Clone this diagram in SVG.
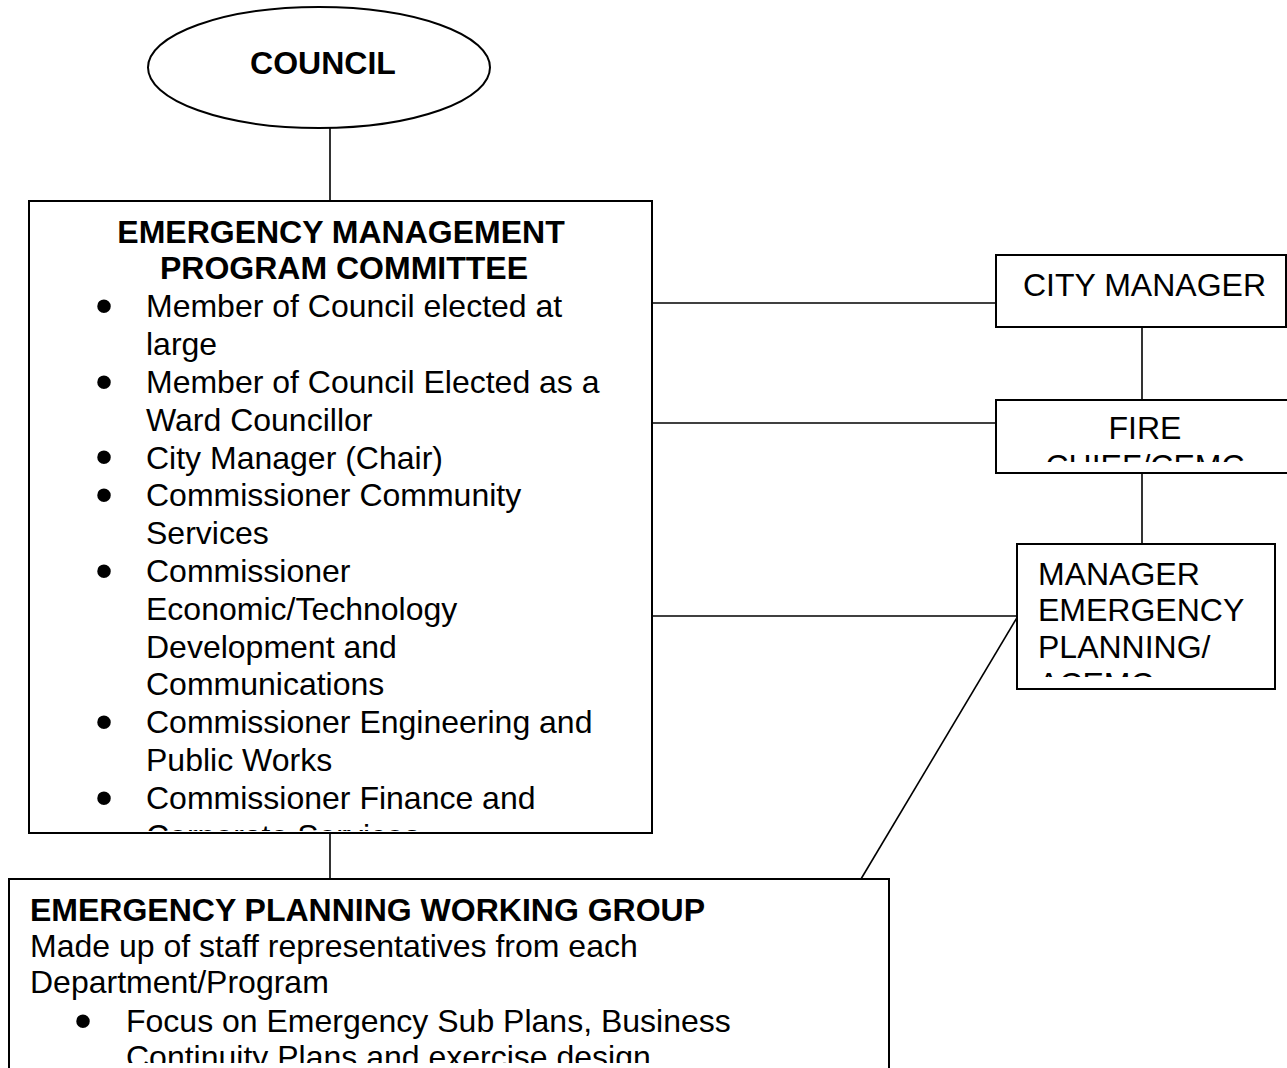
<svg xmlns="http://www.w3.org/2000/svg" width="1287" height="1068" viewBox="0 0 1287 1068">
<style>
.shape{fill:#fff;stroke:#000;stroke-width:2}
.conn line{stroke:#000;stroke-width:1.6}
text{font-family:"Liberation Sans",Arial,sans-serif;font-size:32px;fill:#000}
.b{font-weight:bold}
.bu{font-size:50px;text-anchor:middle}
</style>
<defs>
<clipPath id="cEmpc"><rect x="30" y="202" width="621" height="629"/></clipPath>
<clipPath id="cFire"><rect x="997" y="401" width="290" height="61"/></clipPath>
<clipPath id="cMgr"><rect x="1018" y="545" width="256" height="132"/></clipPath>
<clipPath id="cEpwg"><rect x="10" y="880" width="878" height="183"/></clipPath>
</defs>
<rect width="1287" height="1068" fill="#fff"/>
<g class="conn">
<line x1="330" y1="128" x2="330" y2="201"/>
<line x1="652" y1="303" x2="996" y2="303"/>
<line x1="652" y1="423" x2="996" y2="423"/>
<line x1="652" y1="616" x2="1018" y2="616"/>
<line x1="1142" y1="327" x2="1142" y2="400"/>
<line x1="1142" y1="473" x2="1142" y2="544"/>
<line x1="330" y1="833" x2="330" y2="879"/>
<line x1="1018" y1="616" x2="861" y2="879"/>
</g>
<g id="council">
<ellipse class="shape" cx="319" cy="67.5" rx="171" ry="60.5"/>
<text class="b" x="323" y="73.5" text-anchor="middle">COUNCIL</text>
</g>
<g id="empc">
<rect class="shape" x="29" y="201" width="623" height="632"/>
<g clip-path="url(#cEmpc)">
<text class="b" x="341" y="242.5" text-anchor="middle">EMERGENCY MANAGEMENT</text>
<text class="b" x="344" y="278.5" text-anchor="middle">PROGRAM COMMITTEE</text>
<text class="bu" x="104" y="322.5">•</text><text x="146" y="317">Member of Council elected at</text>
<text x="146" y="355">large</text>
<text class="bu" x="104" y="398.5">•</text><text x="146" y="393">Member of Council Elected as a</text>
<text x="146" y="430.5">Ward Councillor</text>
<text class="bu" x="104" y="474">•</text><text x="146" y="468.5">City Manager (Chair)</text>
<text class="bu" x="104" y="511.5">•</text><text x="146" y="506">Commissioner Community</text>
<text x="146" y="544">Services</text>
<text class="bu" x="104" y="587.5">•</text><text x="146" y="582">Commissioner</text>
<text x="146" y="620">Economic/Technology</text>
<text x="146" y="657.5">Development and</text>
<text x="146" y="695">Communications</text>
<text class="bu" x="104" y="738.5">•</text><text x="146" y="733">Commissioner Engineering and</text>
<text x="146" y="771">Public Works</text>
<text class="bu" x="104" y="814.5">•</text><text x="146" y="809">Commissioner Finance and</text>
<text x="146" y="847">Corporate Services</text>
</g>
</g>
<g id="city-manager">
<rect class="shape" x="996" y="255" width="290" height="72"/>
<text x="1023" y="296">CITY MANAGER</text>
</g>
<g id="fire-chief">
<rect class="shape" x="996" y="400" width="292" height="73"/>
<g clip-path="url(#cFire)">
<text x="1145" y="439" text-anchor="middle">FIRE</text>
<text x="1145" y="477" text-anchor="middle">CHIEF/CEMC</text>
</g>
</g>
<g id="manager-ep">
<rect class="shape" x="1017" y="544" width="258" height="145"/>
<g clip-path="url(#cMgr)">
<text x="1038" y="584.5">MANAGER</text>
<text x="1038" y="621">EMERGENCY</text>
<text x="1038" y="657.5">PLANNING/</text>
<text x="1038" y="695">ACEMC</text>
</g>
</g>
<g id="epwg">
<rect class="shape" x="9" y="879" width="880" height="200"/>
<g clip-path="url(#cEpwg)">
<text class="b" x="30" y="921">EMERGENCY PLANNING WORKING GROUP</text>
<text x="30" y="957">Made up of staff representatives from each</text>
<text x="30" y="993">Department/Program</text>
<text class="bu" x="83" y="1037.5">•</text><text x="126" y="1032">Focus on Emergency Sub Plans, Business</text>
<text x="126" y="1068">Continuity Plans and exercise design</text>
</g>
</g>
</svg>
